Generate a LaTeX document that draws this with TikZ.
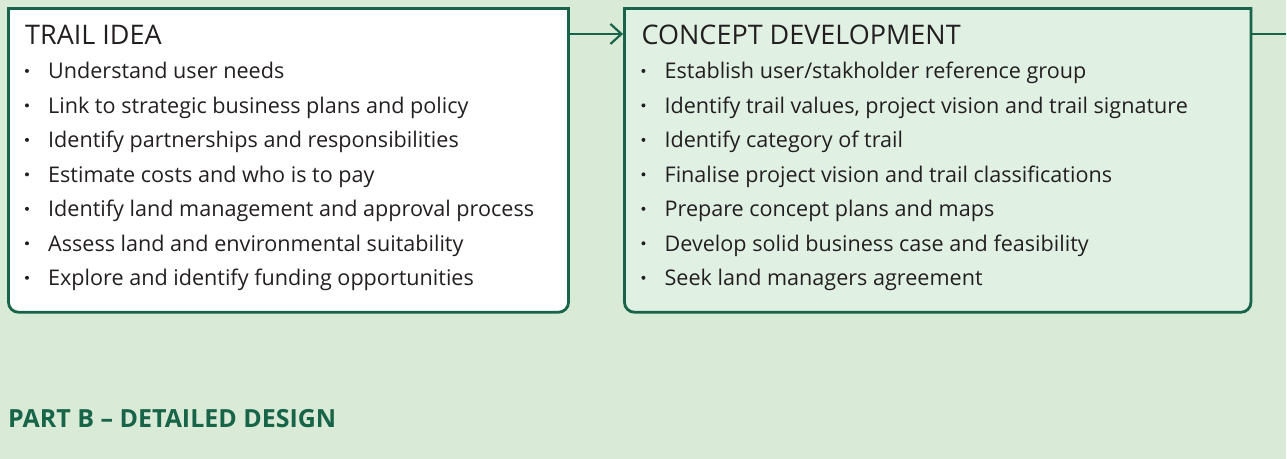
\documentclass[tikz,border=0pt]{standalone}
\usepackage{fontspec}
\setmainfont{Open Sans}
\usetikzlibrary{calc, arrows.meta, positioning}

\definecolor{bgGreen}{RGB}{217,235,215}
\definecolor{boxGreen}{RGB}{224,240,227}
\definecolor{lineGreen}{RGB}{24,100,72}
\definecolor{textGrey}{RGB}{35,31,32}

\tikzset{
    boxline/.style={draw=lineGreen, line width=2.8pt},
    flowline/.style={draw=lineGreen, line width=2.2pt},
    headtxt/.style={anchor=base west, inner sep=0pt, text=textGrey, font=\fontsize{27}{31}\selectfont},
    itemtxt/.style={anchor=base west, inner sep=0pt, text=textGrey, font=\fontsize{21.6}{25}\selectfont},
    parttxt/.style={anchor=base west, inner sep=0pt, text=lineGreen, font=\bfseries\fontsize{25}{29}\selectfont},
}

\begin{document}
\begin{tikzpicture}[x=1pt,y=1pt]
%background
\fill[bgGreen] (0,0) rectangle (1287,-459);

%TRAIL IDEA
\begin{scope}
    \coordinate (trailNW) at (8.5,-8.5);
    \coordinate (trailNE) at (569,-8.5);
    \coordinate (trailOut) at (569,-34);
    \draw[boxline, fill=white] (trailNW) -- (trailNE) -- (569,-302.5)
        arc[start angle=0, end angle=-90, radius=10] -- (18.5,-312.5)
        arc[start angle=270, end angle=180, radius=10] -- cycle;
    \node[headtxt] (trailHead) at (25,-45) {TRAIL IDEA};
    \foreach \txt [count=\i] in {Understand user needs,
        Link to strategic business plans and policy,
        Identify partnerships and responsibilities,
        Estimate costs and who is to pay,
        Identify land management and approval process,
        Assess land and environmental suitability,
        Explore and identify funding opportunities}
    {
        \fill[textGrey] (27,{-71-34.5*(\i-1)}) circle (2);
        \node[itemtxt] (trailItem\i) at (48,{-79-34.5*(\i-1)}) {\txt};
    }
\end{scope}

%CONCEPT DEVELOPMENT
\begin{scope}
    \coordinate (conceptNW) at (625,-8.5);
    \coordinate (conceptNE) at (1252,-8.5);
    \coordinate (conceptIn) at (623.6,-34);
    \coordinate (conceptOut) at (1252,-34);
    \coordinate (pageEdge) at (1287,-34);
    \draw[boxline, fill=boxGreen] (conceptNW) -- (conceptNE) -- (1252,-302.5)
        arc[start angle=0, end angle=-90, radius=10] -- (635,-312.5)
        arc[start angle=270, end angle=180, radius=10] -- cycle;
    \node[headtxt] (conceptHead) at (642,-45) {CONCEPT DEVELOPMENT};
    \foreach \txt [count=\i] in {Establish user/stakholder reference group,
        {Identify trail values, project vision and trail signature},
        Identify category of trail,
        Finalise project vision and trail classifications,
        Prepare concept plans and maps,
        Develop solid business case and feasibility,
        Seek land managers agreement}
    {
        \fill[textGrey] (644,{-71-34.5*(\i-1)}) circle (2);
        \node[itemtxt] (conceptItem\i) at (665,{-79-34.5*(\i-1)}) {\txt};
    }
\end{scope}

%connectors
\draw[flowline, -{Straight Barb[length=11pt, width=20pt]}] (trailOut) -- (conceptIn);
\draw[flowline] (conceptOut) -- (pageEdge);

\node[parttxt] (partB) at (8,-428) {PART B – DETAILED DESIGN};

\end{tikzpicture}
\end{document}
